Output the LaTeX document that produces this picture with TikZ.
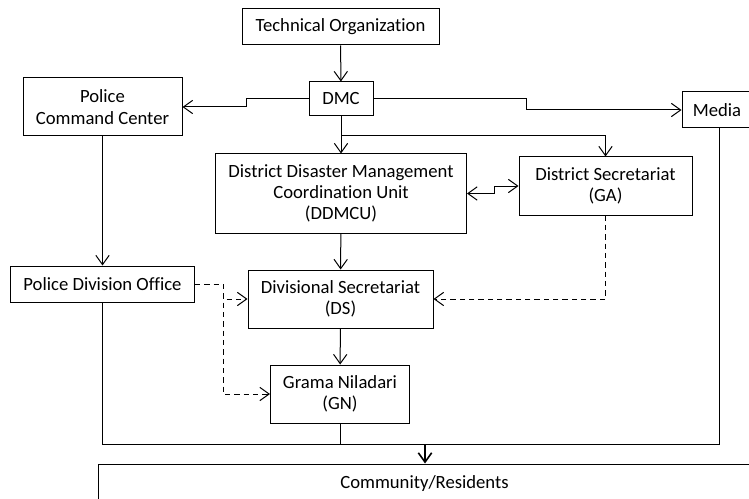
\documentclass[tikz,border=0pt]{standalone}
\usepackage{fontspec}
\setmainfont{Carlito}[Ligatures=CommonOff]
\usetikzlibrary{positioning,arrows.meta}

\begin{document}
\begin{tikzpicture}[x=0.75pt, y=-0.75pt, line width=0.75pt,
  >={Straight Barb[length=7pt,width=10pt]},
  org_box/.style={draw=black, fill=white, align=center, inner sep=0pt,
    font=\fontsize{14}{16}\selectfont},
  dash_style/.style={draw=black, dashed, dash pattern=on 4pt off 3pt}]
  \useasboundingbox (0,0) rectangle (749,499);

  \node[org_box, minimum width=197*0.75pt, minimum height=36*0.75pt] (tech) at (340.5,27) {Technical Organization};
  \node[org_box, minimum width=64*0.75pt, minimum height=34*0.75pt] (dmc) at (341,99) {DMC};
  \node[org_box, minimum width=159*0.75pt, minimum height=58*0.75pt] (pcc) at (102.5,107) {Police\\Command Center};
  \node[org_box, minimum width=70*0.75pt, minimum height=36*0.75pt] (media) at (717,110) {Media};
  \node[org_box, minimum width=251*0.75pt, minimum height=79*0.75pt] (ddmcu) at (341,193.5) {District Disaster Management\\Coordination Unit\\(DDMCU)};
  \node[org_box, minimum width=173*0.75pt, minimum height=58*0.75pt] (ga) at (605.5,186) {District Secretariat\\(GA)};
  \node[org_box, minimum width=184*0.75pt, minimum height=36*0.75pt] (pdo) at (102.5,284) {Police Division Office};
  \node[org_box, minimum width=185*0.75pt, minimum height=58*0.75pt] (ds) at (340.5,299) {Divisional Secretariat\\(DS)};
  \node[org_box, minimum width=139*0.75pt, minimum height=58*0.75pt] (gn) at (340,394) {Grama Niladari\\(GN)};
  \node[org_box, minimum width=653*0.75pt, minimum height=40*0.75pt] (comm) at (424.5,484) {Community/Residents};

  % bends
  \coordinate (kl) at (246,107);
  \coordinate (kr) at (526,110);
  \coordinate (kb) at (341,136);
  \coordinate (km) at (494,186);
  \coordinate (kd) at (223,284);
  \coordinate (br) at (719,444);
  \coordinate (ba) at (425,444);

  \draw[->] (tech) -- (dmc);
  \draw[->] (dmc.west) -| (kl) -- (pcc.east);
  \draw[->] (dmc.east) -| (kr) -- (media.west);
  \draw[->] (dmc) -- (ddmcu);
  \draw[->] (kb) -| (ga.north);
  \draw[<->] (ddmcu.east) -| (km) -- (ga.west);
  \draw[->] (ddmcu) -- (ds);
  \draw[->] (ds) -- (gn);
  \draw[->] (pcc) -- (pdo);

  \draw[dash_style, ->] (ga.south) |- (ds.east);
  \draw[dash_style] (pdo.east) -- (kd);
  \draw[dash_style, ->] (kd) |- (ds.west);
  \draw[dash_style, ->] (kd) |- (gn.west);

  \draw (pdo.south) |- (br) -- (br |- media.south);
  \draw (gn.south) -- (gn.south |- br);
  \draw[->, line width=1.2pt] (ba) -- (ba |- comm.north);
\end{tikzpicture}
\end{document}
